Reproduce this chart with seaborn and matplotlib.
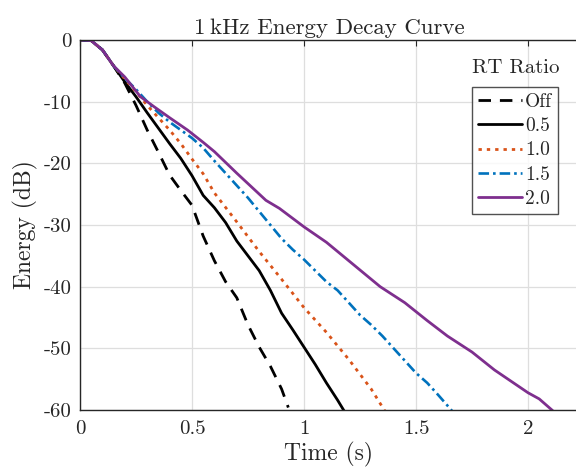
import numpy as np
import pandas as pd
import matplotlib
matplotlib.use('Agg')
import matplotlib.pyplot as plt
import seaborn as sns

# energy decay curves (time in s, level in dB)
t_off = [0, 0.05, 0.1, 0.15, 0.2, 0.25, 0.3, 0.35, 0.4, 0.45, 0.5, 0.55, 0.6,
         0.65, 0.7, 0.75, 0.8, 0.85, 0.9, 0.93]
db_off = [0, -0.1, -1.6, -4.2, -7.0, -10.6, -14.6, -18.2, -21.9, -24.4, -26.8,
          -31.8, -35.8, -39.2, -41.8, -46.2, -49.8, -52.9, -56.6, -59.6]

t_05 = [0, 0.05, 0.1, 0.15, 0.2, 0.25, 0.3, 0.35, 0.4, 0.45, 0.5, 0.55, 0.6,
        0.65, 0.7, 0.75, 0.8, 0.85, 0.9, 0.95, 1.0, 1.05, 1.1, 1.15, 1.18]
db_05 = [0, -0.1, -1.6, -4.2, -6.8, -9.2, -11.8, -14.3, -16.8, -19.2, -22.0,
         -25.2, -27.2, -29.6, -32.6, -35.0, -37.4, -40.6, -44.3, -47.0, -49.8,
         -52.6, -55.6, -58.4, -60.2]

t_10 = [0, 0.05, 0.1, 0.15, 0.2, 0.25, 0.3, 0.35, 0.4, 0.45, 0.5, 0.55, 0.6,
        0.7, 0.8, 0.9, 1.0, 1.1, 1.2, 1.3, 1.36]
db_10 = [0, -0.1, -1.6, -4.2, -6.3, -8.4, -10.6, -12.6, -14.6, -16.8, -19.3,
         -21.7, -24.8, -29.5, -34.3, -38.8, -43.4, -47.4, -51.8, -56.6, -60.1]

t_15 = [0, 0.05, 0.1, 0.15, 0.2, 0.25, 0.3, 0.35, 0.4, 0.45, 0.5, 0.55, 0.6,
        0.65, 0.7, 0.75, 0.8, 0.85, 0.9, 0.95, 1.0, 1.05, 1.1, 1.15, 1.2,
        1.25, 1.3, 1.35, 1.4, 1.45, 1.5, 1.55, 1.6, 1.66]
db_15 = [0, -0.1, -1.6, -4.2, -6.2, -8.0, -10.0, -11.8, -13.3, -14.6, -15.9,
         -17.5, -19.6, -21.6, -23.6, -25.6, -27.8, -30.0, -32.2, -34.0, -35.6,
         -37.4, -39.2, -40.6, -42.6, -44.6, -46.2, -48.0, -50.0, -52.0, -54.0,
         -55.6, -57.6, -60.1]

t_20 = [0, 0.05, 0.1, 0.15, 0.2, 0.27, 0.33, 0.4, 0.48, 0.55, 0.6, 0.7, 0.83,
        0.89, 1.0, 1.1, 1.2, 1.34, 1.45, 1.55, 1.64, 1.75, 1.85, 2.0, 2.05, 2.11]
db_20 = [0, -0.1, -1.6, -4.2, -6.0, -9.2, -10.8, -12.6, -14.6, -16.6, -18.1,
         -21.6, -26.0, -27.3, -30.3, -32.8, -35.8, -40.0, -42.6, -45.5, -48.0,
         -50.6, -53.5, -57.2, -58.2, -60.1]

labels = ['Off', '0.5', '1.0', '1.5', '2.0']

sns.set_style('white')
plt.rcParams['font.family'] = ['cmr10', 'DejaVu Serif']
plt.rcParams['axes.unicode_minus'] = False

fig = plt.figure(figsize=(5.76, 4.70), dpi=100)
# axes runs slightly past the right edge of the image, like the reference
ax = fig.add_axes([80/576, 60/470, 498/576, 370/470])

series = [(t_off, db_off, 'black', (0, (4.5, 3.2)), 2.0),
          (t_05, db_05, 'black', '-', 2.0),
          (t_10, db_10, '#D95319', (0, (1.2, 1.8)), 2.0),
          (t_15, db_15, '#0072BD', (0, (4, 1.5, 1, 1.5)), 1.9),
          (t_20, db_20, '#7E2F8E', '-', 2.0)]

for (t, db, c, ls, lw), lab in zip(series, labels):
    sns.lineplot(x=t, y=db, ax=ax, color=c, linestyle=ls, linewidth=lw,
                 label=lab)

ax.set_xlim(0, 498/224)
ax.set_ylim(-60, 0)
ax.set_xticks([0, 0.5, 1, 1.5, 2])
ax.set_xticklabels(['0', '0.5', '1', '1.5', '2'])
ax.set_yticks([0, -10, -20, -30, -40, -50, -60])
ax.set_yticklabels(['0', '-10', '-20', '-30', '-40', '-50', '-60'])
ax.grid(True, color='#dedede', linewidth=0.9)
ax.tick_params(direction='in', length=4, labelsize=15, top=True, right=False,
               colors='#262626')
ax.tick_params(axis='x', pad=7)
ax.tick_params(axis='y', pad=6)
for s in ax.spines.values():
    s.set_color('#262626')
    s.set_linewidth(1.0)

ax.set_xlabel('Time (s)', fontsize=17, labelpad=3)
ax.set_ylabel('Energy (dB)', fontsize=17, labelpad=4)
ax.set_title('1\u2009kHz Energy Decay Curve', fontsize=16.5, pad=4)

leg = ax.legend(loc='upper right', bbox_to_anchor=(0.960, 0.873), fontsize=14,
                frameon=True, fancybox=False, edgecolor='#262626',
                handlelength=2.3, handletextpad=0.15, borderpad=0.3,
                labelspacing=0.33, borderaxespad=0)
leg.get_frame().set_linewidth(1.0)
ax.text(0.876, 0.924, 'RT Ratio', transform=ax.transAxes, fontsize=15,
        ha='center', va='center')

fig.savefig('out.png', dpi=100)
